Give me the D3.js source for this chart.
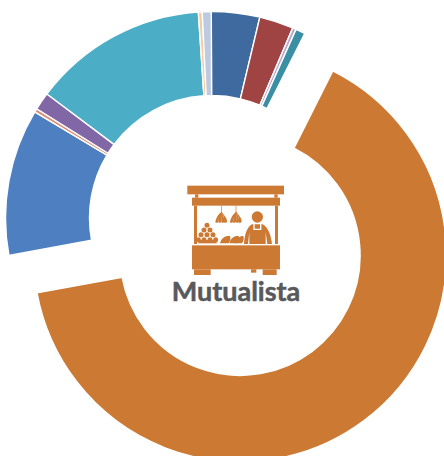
<!DOCTYPE html>
<html><head><meta charset="utf-8">
<script src="https://cdn.jsdelivr.net/npm/d3@7"></script>
<style>html,body{margin:0;padding:0;background:#fff;overflow:hidden}svg{display:block}</style>
</head><body><div id="chart"></div>
<script>
const categories = ["A","B","C","D","Mutualista","F","G","H","I","J","K"];
const shares = [3.78,2.67,0.28,0.74,64.74,11.5,0.28,1.39,13.7,0.3,0.7];
const colors = ["#3f6a9f","#a04343","#b9a8d0","#3b8fa4","#cc7a33","#4e80c1","#dc8b78","#8267a6","#4badc6","#f6cb9e","#bccae3"];
const highlighted = "Mutualista";
const centerLabel = "Mutualista";
const iconColor = "#cc7a33";

const W = 444, H = 456;
const svg = d3.select("#chart").append("svg").attr("width", W).attr("height", H);
const cx = 212, cy = 218, rInMain = 120, rInRest = 122.5, rOut = 206.5, explode = 46.8;

const pie = d3.pie().sort(null).value(d => d.v).startAngle(-0.2*Math.PI/180).endAngle(2*Math.PI-0.2*Math.PI/180);
const arc = d3.arc().innerRadius(d=>d.data.c===highlighted?rInMain:rInRest).outerRadius(rOut);
const rows = categories.map((c,i)=>({c, v:shares[i], col:colors[i]}));

svg.append("g").selectAll("path").data(pie(rows)).join("path")
  .attr("d", arc)
  .attr("fill", d=>d.data.col)
  .attr("stroke","#fff").attr("stroke-width",1.4)
  .attr("transform", d=>{
    const m=(d.startAngle+d.endAngle)/2;
    const o=d.data.c===highlighted?explode:0;
    return `translate(${cx+o*Math.sin(m)},${cy-o*Math.cos(m)})`;
  });

// stall icon, drawn in a 0..140 grid of 1/3 px units
const ic = svg.append("g").attr("transform","translate(170,170) scale(0.33333)").attr("fill",iconColor);
const R=(x,y,w,h)=>ic.append("rect").attr("x",x).attr("y",y).attr("width",w).attr("height",h);
R(52,47,290,26); R(75,73,10,10); R(313,73,10,10); R(66,83,264,24);
R(72,107,9,115); R(315,107,9,115); R(66,226,264,72);
R(72,298,50,17); R(243,298,16,10); R(278,298,42,17);
R(153,107,2,22); R(197,107,2,22);
// oranges
[[111,166],[102,180],[120,180],[93,194],[111,194],[129,194],[85,209],[102,209],[120,209],[137,209]].forEach(p=>
  ic.append("circle").attr("cx",p[0]).attr("cy",p[1]).attr("r",7.5));
ic.append("rect").attr("x",85).attr("y",210).attr("width",55).attr("height",10);
// bananas: two bunches
[[154,0],[198,0]].forEach(p=>{
  const x=p[0];
  [[-16,-19],[-7,-9],[2,2],[10,13]].forEach(q=>{
    ic.append("path").attr("d",`M${x} 127 C${x+q[0]*0.4} 130 ${x+q[0]} 142 ${x+q[0]-2} 157 C${x+q[0]+1} 160 ${x+q[0]+6} 158 ${x+q[0]+7} 155 C${x+q[0]+8} 145 ${x+q[0]*0.3+4} 135 ${x+2} 127 Z`);
  });
});
// breads
[[150,220,182],[178,220,208],[197,220,222]].forEach(p=>{
  ic.append("path").attr("d",`M${p[0]} ${p[1]} C${p[0]+3} 204 ${p[0]+16} 196 ${p[2]-2} 198 C${p[2]+1} 206 ${p[2]-2} 214 ${p[2]-6} ${p[1]} Z`);
});
// person
ic.append("circle").attr("cx",262).attr("cy",141).attr("r",17);
ic.append("path").attr("fill-rule","evenodd").attr("d",
 "M222 222 C224 195 230 172 246 163 L250 163 L250 180 L274 180 L274 163 L278 163 C294 172 303 195 306 222 L292 222 L287 186 L287 222 L238 222 L238 186 L234 222 Z M254 163 L270 163 L270 176 L254 176 Z");

svg.append("text").attr("x",236).attr("y",300.5).attr("text-anchor","middle")
  .attr("font-family","Lato, 'Open Sans', sans-serif").attr("font-weight",700).attr("font-size",27)
  .attr("fill","#58595b").attr("stroke","#58595b").attr("stroke-width",0.5).text(centerLabel);
</script></body></html>
